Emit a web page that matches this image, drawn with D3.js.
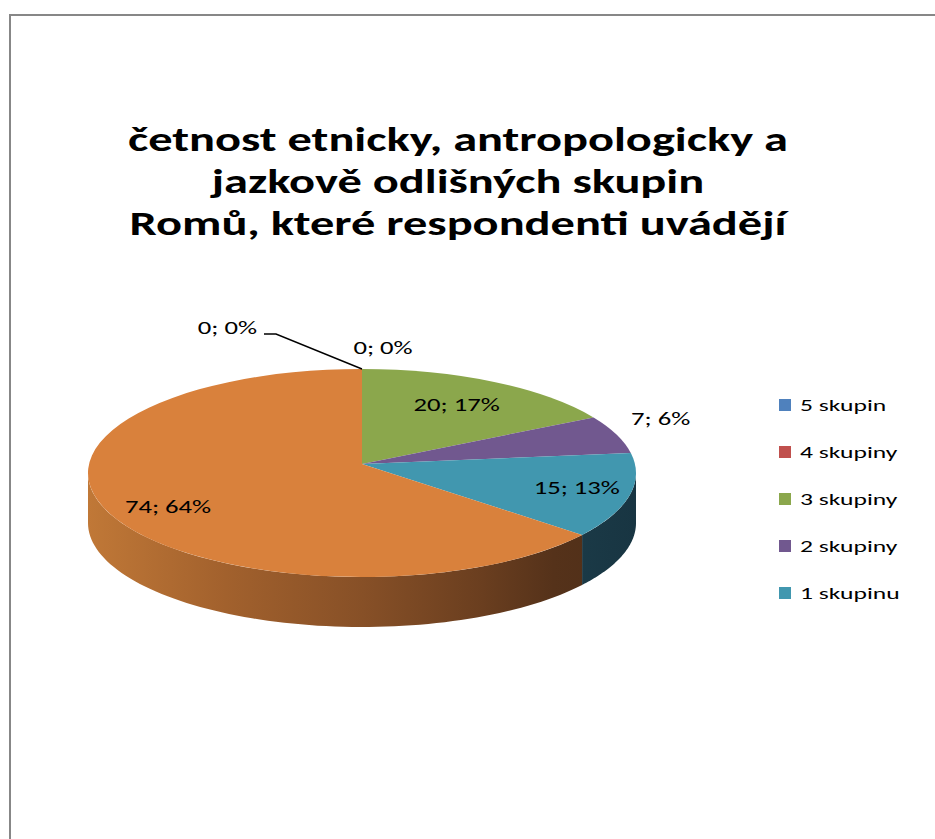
<!DOCTYPE html>
<html>
<head>
<meta charset="utf-8">
<script src="https://cdn.jsdelivr.net/npm/d3@7/dist/d3.min.js"></script>
<style>
  html, body { margin: 0; padding: 0; background: #fff; }
  svg { display: block; }
</style>
</head>
<body>
<svg id="chart" width="935" height="839"></svg>
<script>
// ---- data ----
const categories = ["5 skupin", "4 skupiny", "3 skupiny", "2 skupiny", "1 skupinu", ""];
const values = [0, 0, 20, 7, 15, 74];
const legendCategories = ["5 skupin", "4 skupiny", "3 skupiny", "2 skupiny", "1 skupinu"];
const titleLines = ["četnost etnicky, antropologicky a", "jazkově odlišných skupin", "Romů, které respondenti uvádějí"];

// ---- styles / layout ----
const topColors = ["#4F81BD", "#C0504D", "#8BA74C", "#71588F", "#4197AF", "#D9813C"];
const font = "Carlito, Lato, 'Open Sans', sans-serif";
const cx = 362, cy = 473, rx = 274, ry = 104, depth = 50, apexShift = 9;

const svg = d3.select("#chart");

// horizontally stretch a text element by factor (reference text is wide)
function stretch(sel, factor) {
  sel.each(function () {
    const w = this.getComputedTextLength();
    d3.select(this).attr("textLength", w * factor).attr("lengthAdjust", "spacingAndGlyphs");
  });
}

// frame
svg.append("path")
  .attr("d", "M10,845 L10,15 L945,15")
  .attr("fill", "none").attr("stroke", "#878787").attr("stroke-width", 2);

// title
const titleG = svg.append("g")
  .attr("font-family", font).attr("font-weight", "bold")
  .attr("font-size", 34).attr("fill", "#000");
const titleTexts = titleG.selectAll("text").data(titleLines).join("text")
  .attr("x", 458).attr("y", (d, i) => 151 + i * 42)
  .attr("text-anchor", "middle")
  .text(d => d);
const w0 = titleTexts.node().getComputedTextLength();
stretch(titleTexts, 660 / w0);

// pie geometry
const pie = d3.pie().sort(null).value(d => d).startAngle(0).endAngle(2 * Math.PI);
const arcs = pie(values);
const total = d3.sum(values);

// perspective-ish mapping: ray from the apex at the true angle, hitting the rim ellipse
const h = apexShift / ry;
function rimParam(theta) {
  const c = Math.cos(theta), s = Math.sin(theta);
  const t = -h * c + Math.sqrt(h * h * c * c - h * h + 1);
  const u = t * s, v = -h - t * c;
  let phi = Math.atan2(u, -v);
  if (phi < 0) phi += 2 * Math.PI;
  if (theta >= 2 * Math.PI - 1e-9) phi = 2 * Math.PI;
  return phi;
}
const P = (phi, dy = 0) => [cx + rx * Math.sin(phi), cy - ry * Math.cos(phi) + dy];

// gradients for sides
const defs = svg.append("defs");
const g1 = defs.append("linearGradient").attr("id", "gOrange")
  .attr("gradientUnits", "userSpaceOnUse")
  .attr("x1", cx - rx).attr("x2", cx + rx).attr("y1", 0).attr("y2", 0);
[[0, "#C07837"], [0.25, "#A2612D"], [0.5, "#875027"], [0.72, "#6A3E1F"], [0.85, "#55321A"], [1, "#4E2E18"]]
  .forEach(([o, c]) => g1.append("stop").attr("offset", o).attr("stop-color", c));
const g2 = defs.append("linearGradient").attr("id", "gCyan")
  .attr("gradientUnits", "userSpaceOnUse")
  .attr("x1", cx - rx).attr("x2", cx + rx).attr("y1", 0).attr("y2", 0);
[[0, "#2A5A6C"], [0.8, "#1D3E4B"], [1, "#183542"]]
  .forEach(([o, c]) => g2.append("stop").attr("offset", o).attr("stop-color", c));
const sideFill = ["#2B4766", "#6B2C2A", "#4E5E2A", "#3E304F", "url(#gCyan)", "url(#gOrange)"];

// sides (front half of the rim)
const sideG = svg.append("g");
arcs.forEach((d, i) => {
  const a0 = Math.max(rimParam(d.startAngle), Math.PI / 2);
  const a1 = Math.min(rimParam(d.endAngle), 3 * Math.PI / 2);
  if (a1 <= a0) return;
  const n = 80;
  const pts = [];
  for (let k = 0; k <= n; k++) pts.push(P(a0 + (a1 - a0) * k / n));
  for (let k = n; k >= 0; k--) pts.push(P(a0 + (a1 - a0) * k / n, depth));
  sideG.append("path")
    .attr("d", d3.line()(pts) + "Z")
    .attr("fill", sideFill[i]);
});

// top faces
const topG = svg.append("g");
arcs.forEach((d, i) => {
  if (d.endAngle - d.startAngle <= 0) return;
  const f0 = rimParam(d.startAngle), f1 = rimParam(d.endAngle);
  const p0 = P(f0), p1 = P(f1);
  const large = (f1 - f0) > Math.PI ? 1 : 0;
  const path = `M${cx},${cy - apexShift} L${p0[0]},${p0[1]} A${rx},${ry} 0 ${large} 1 ${p1[0]},${p1[1]} Z`;
  topG.append("path").attr("d", path).attr("fill", topColors[i]);
});

// data labels
const labelLayout = [
  { fx: 0, fy: 1, anchor: "end", leader: true, ox: -105, oy: -41 },
  { fx: 0, fy: 1, anchor: "middle", ox: 21, oy: -21 },
  { fx: 0.67, fy: 0.76, anchor: "middle", ox: 0, oy: 0 },
  { fx: 1.14, fy: 1, anchor: "middle", ox: 0, oy: -23 },
  { fx: 0.82, fy: 0.48, anchor: "middle", ox: 0, oy: 0 },
  { fx: 0.78, fy: 0.78, anchor: "middle", ox: 0, oy: 0 }
];
const lblG = svg.append("g").attr("font-family", font).attr("font-size", 18).attr("fill", "#000");
arcs.forEach((d, i) => {
  const L = labelLayout[i];
  const mid = (d.startAngle + d.endAngle) / 2;
  let x, y;
  if (d.endAngle - d.startAngle === 0) {
    const pt = P(rimParam(mid));
    x = pt[0] + L.ox; y = pt[1] + L.oy;
  } else {
    x = cx + rx * Math.sin(mid) * L.fx + L.ox;
    y = cy - ry * Math.cos(mid) * L.fy + L.oy;
  }
  const pct = Math.round(values[i] / total * 100);
  const t = lblG.append("text")
    .attr("x", x).attr("y", y)
    .attr("text-anchor", L.anchor)
    .attr("dominant-baseline", "central")
    .text(`${values[i]}; ${pct}%`);
  stretch(t, 1.48);
  if (L.leader) {
    const pt = P(rimParam(mid));
    svg.append("path")
      .attr("d", `M${x + 7},${y + 6} L${x + 19},${y + 6} L${pt[0]},${pt[1]}`)
      .attr("fill", "none").attr("stroke", "#000").attr("stroke-width", 1.4);
  }
});

// legend
const legG = svg.append("g").attr("font-family", font).attr("font-size", 16.5);
const legY = d3.scalePoint().domain(legendCategories).range([405, 593]);
legendCategories.forEach((c) => {
  const idx = categories.indexOf(c);
  legG.append("rect")
    .attr("x", 779).attr("y", legY(c) - 6).attr("width", 12).attr("height", 12)
    .attr("fill", topColors[idx]);
  const t = legG.append("text")
    .attr("x", 800).attr("y", legY(c))
    .attr("dominant-baseline", "central")
    .attr("fill", "#000")
    .text(c);
  stretch(t, 1.55);
});
</script>
</body>
</html>
